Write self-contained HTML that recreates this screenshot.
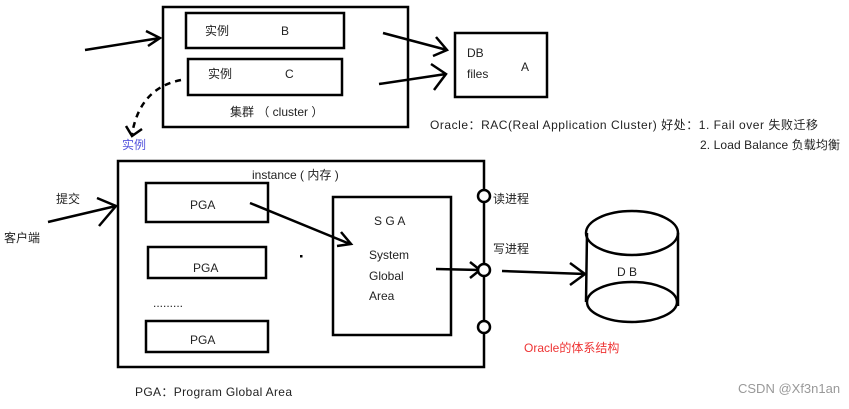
<!DOCTYPE html>
<html><head><meta charset="utf-8"><style>
body{margin:0;background:#fff;}
svg text{font-family:"Liberation Sans","Noto Sans CJK SC",sans-serif;font-size:12px;fill:#222;}
</style></head><body>
<svg width="849" height="404" viewBox="0 0 849 404" xmlns="http://www.w3.org/2000/svg">
<g fill="none" stroke="#000" stroke-width="2.5">
<rect x="163" y="7" width="245" height="120"/>
<rect x="186" y="13" width="158" height="35"/>
<rect x="188" y="59" width="154" height="36"/>
<rect x="455" y="33" width="92" height="64"/>
<path d="M85 50 L160 38 M146 31 L160 38 L148 46"/>
<path d="M383 33 L447 50 M436 37 L447 50 L433 56"/>
<path d="M379 84 L446 74 M431 64 L446 74 L434 90"/>
<path d="M181 80 Q140 88 132 134" stroke-dasharray="6,5"/>
<path d="M126 126 L132 136 L142 129"/>
<rect x="118" y="161" width="366" height="206"/>
<rect x="146" y="183" width="122" height="39"/>
<rect x="148" y="247" width="118" height="31"/>
<rect x="146" y="321" width="122" height="31"/>
<rect x="333" y="197" width="118" height="138"/>
<path d="M250 203 L350 244 M341 232 L351 244 L337 246"/>
<path d="M436 269 L480 270 M470 262 L480 270 L470 278"/>
<path d="M48 222 L116 206 M97 198 L116 206 L99 226"/>
<path d="M502 271 L585 274 M570 263 L585 274 L570 285"/>
<ellipse cx="632" cy="233" rx="46" ry="22"/>
<ellipse cx="632" cy="302" rx="45" ry="20"/>
<path d="M587 233 L586 302 M678 233 L678 306"/>
</g>
<g fill="#fff" stroke="#000" stroke-width="2.5">
<circle cx="484" cy="196" r="6"/><circle cx="484" cy="270" r="6"/><circle cx="484" cy="327" r="6"/>
</g>
<rect x="300" y="255" width="2.5" height="2.5" fill="#000"/>
<text x="205" y="35">实例</text><text x="281" y="35">B</text>
<text x="208" y="78">实例</text><text x="285" y="78">C</text>
<text x="230" y="116">集群 （ cluster ）</text>
<text x="467" y="57">DB</text><text x="467" y="78">files</text><text x="521" y="71">A</text>
<text x="122" y="149" style="fill:#5555dd">实例</text>
<text x="430" y="129" textLength="388" lengthAdjust="spacing">Oracle：RAC(Real  Application  Cluster)  好处：1. Fail over   失败迁移</text>
<text x="700" y="149" textLength="140" lengthAdjust="spacing">2.  Load Balance 负载均衡</text>
<text x="252" y="179">instance ( 内存 )</text>
<text x="190" y="209">PGA</text><text x="193" y="272">PGA</text><text x="190" y="344">PGA</text>
<text x="153" y="307">.........</text>
<text x="374" y="225">S G A</text>
<text x="369" y="259">System</text><text x="369" y="280">Global</text><text x="369" y="300">Area</text>
<text x="493" y="203">读进程</text><text x="493" y="253">写进程</text>
<text x="617" y="276">D  B</text>
<text x="524" y="352" style="fill:#ee3333">Oracle的体系结构</text>
<text x="56" y="203">提交</text><text x="4" y="242">客户端</text>
<text x="135" y="396" textLength="157" lengthAdjust="spacing">PGA：Program Global Area</text>
<text x="738" y="393" style="fill:#999;font-size:13px">CSDN @Xf3n1an</text>
</svg>
</body></html>
